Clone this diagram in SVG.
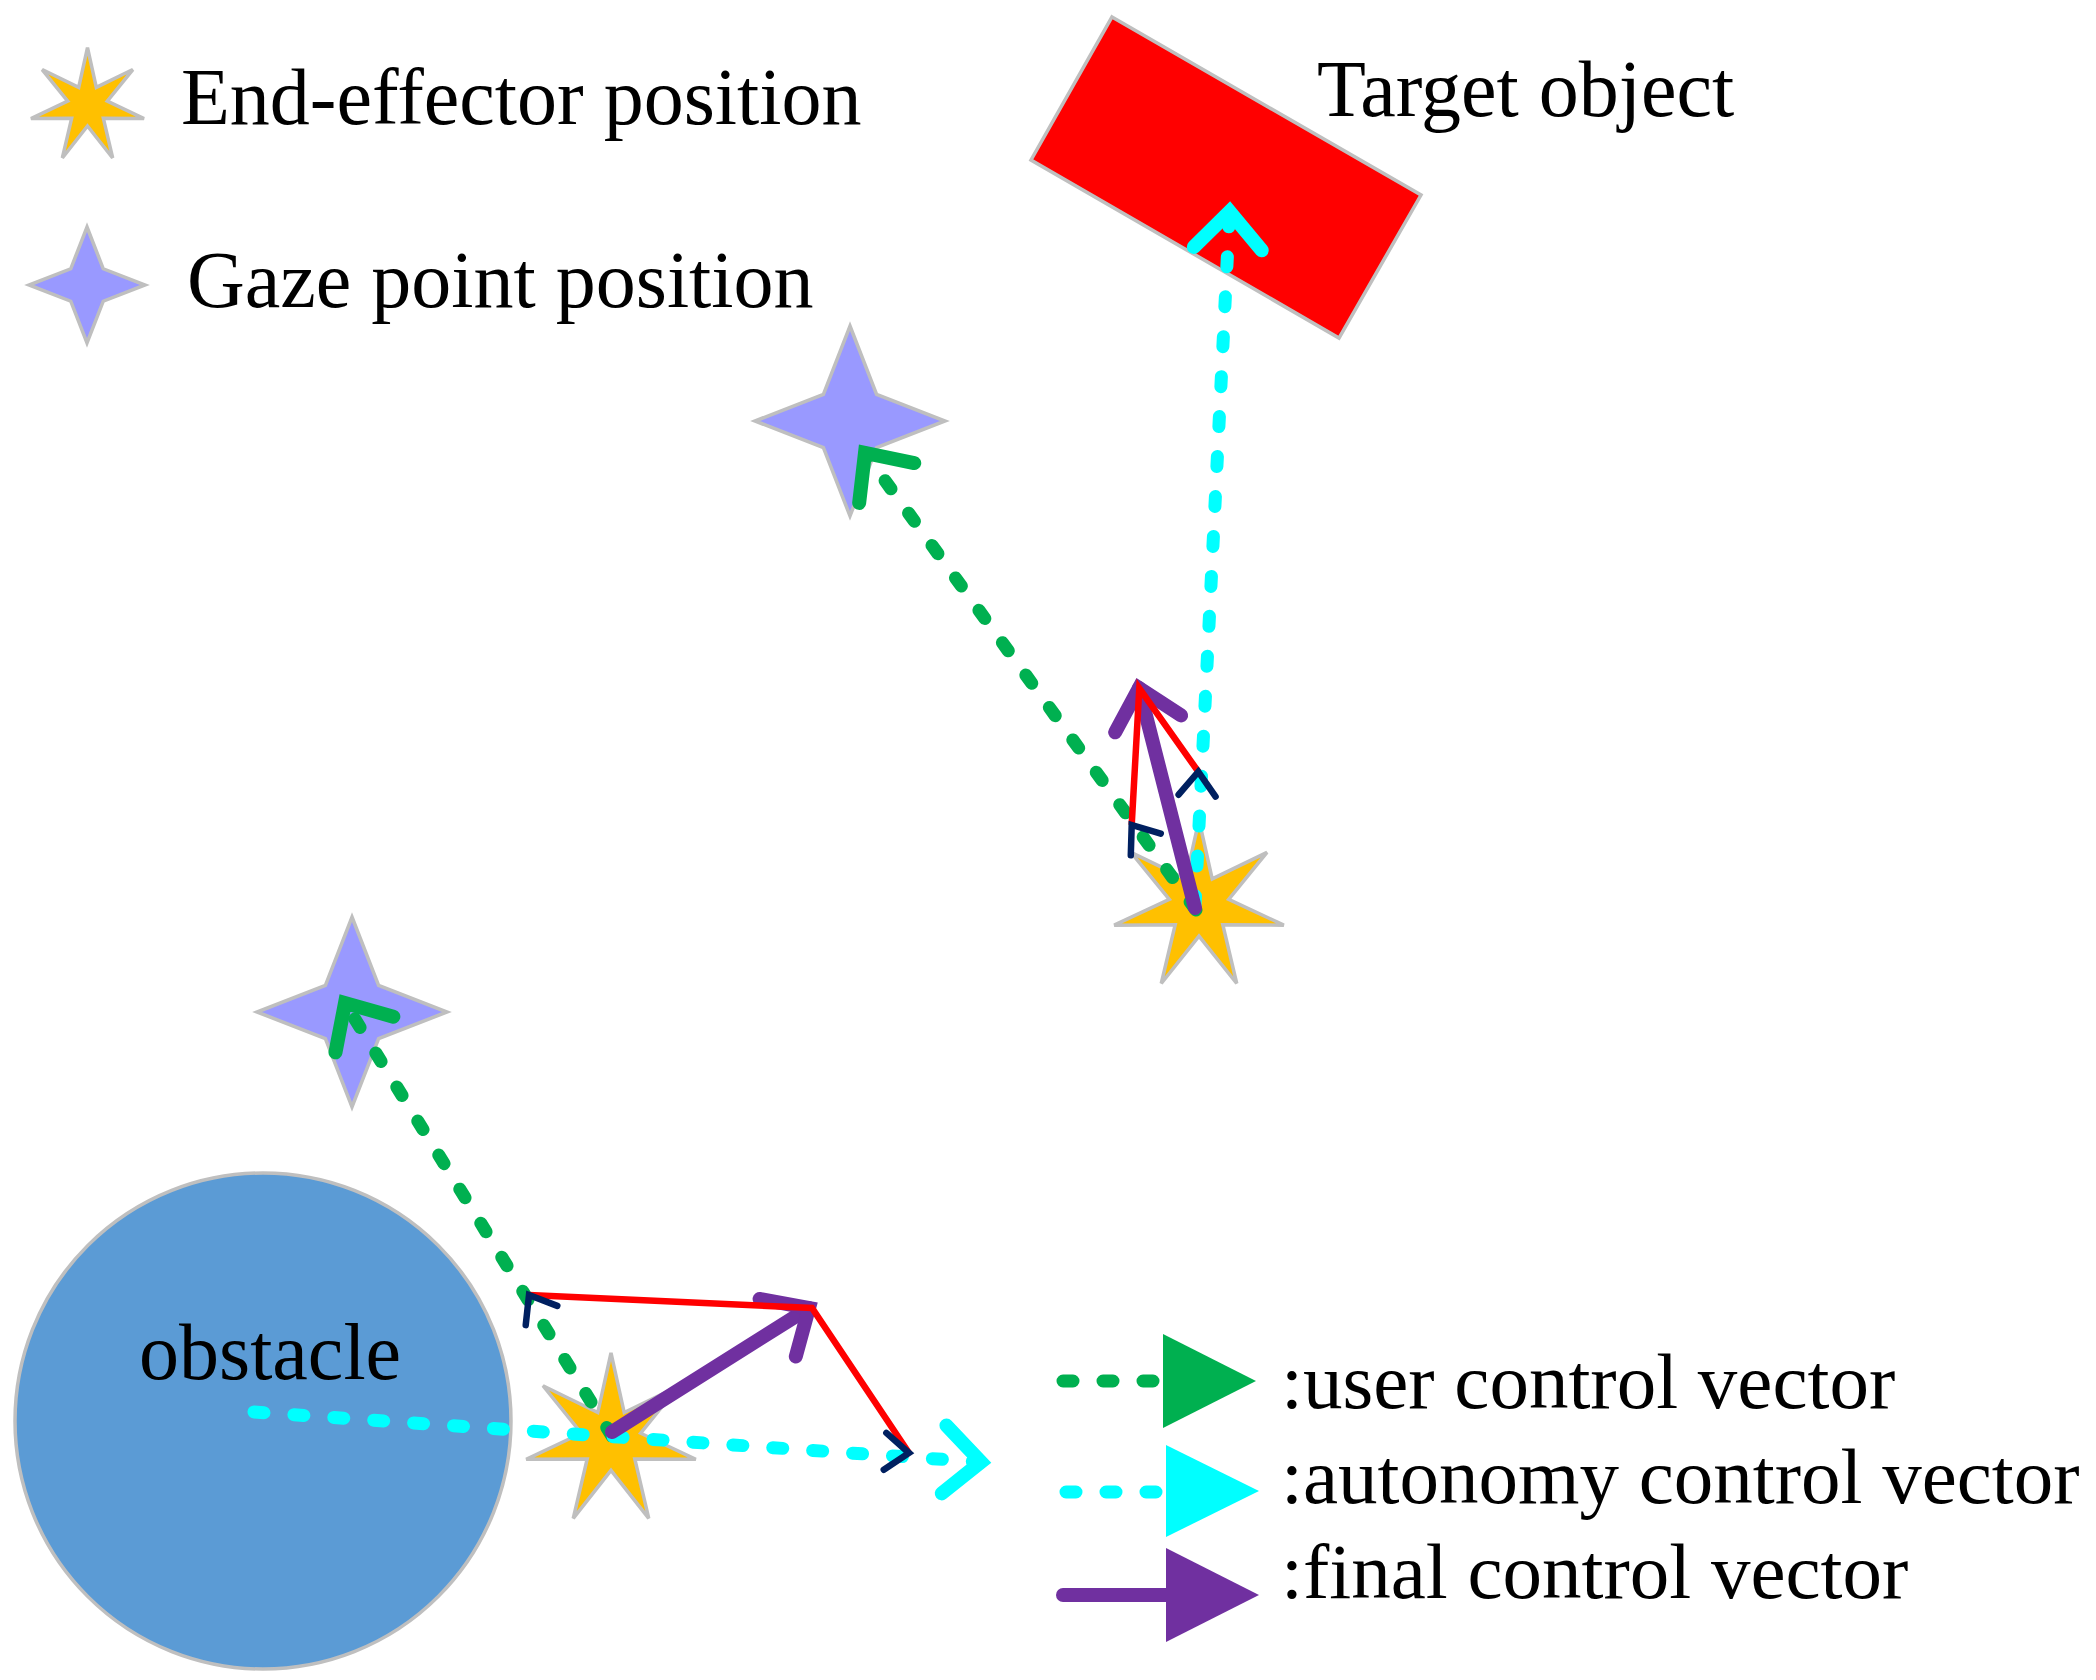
<svg xmlns="http://www.w3.org/2000/svg" xmlns:xlink="http://www.w3.org/1999/xlink" width="2096" height="1680" viewBox="0 0 2096 1680">
<style>
  .lbl { font-family: "Liberation Serif", "Times New Roman", serif; font-size: 80px; fill: #000; }
  .lbl2 { font-family: "Liberation Serif", "Times New Roman", serif; font-size: 79px; fill: #000; }
  .star7 { fill: #FFC000; stroke: #BFBFBF; stroke-width: 3.5; stroke-linejoin: miter; }
  .star4 { fill: #9999FF; stroke: #BFBFBF; stroke-width: 3.5; stroke-linejoin: miter; }
  .user { fill: none; stroke: #00B050; stroke-width: 13; stroke-linecap: round; stroke-dasharray: 10 30; }
  .auto { fill: none; stroke: #00FFFF; stroke-width: 13; stroke-linecap: round; stroke-dasharray: 10 30; }
  .final { fill: none; stroke: #7030A0; stroke-width: 14; stroke-linecap: round; }
  .comp { fill: none; stroke: #FF0000; stroke-width: 6.5; stroke-linejoin: miter; stroke-linecap: butt; }
  .navy { fill: none; stroke: #002060; stroke-width: 6.5; stroke-linecap: round; stroke-linejoin: miter; }
</style>
<defs>
  <polygon id="s7" vector-effect="non-scaling-stroke" points="0,-100 15.19,-31.53 78.18,-62.35 34.12,-7.79 97.49,22.25 27.36,21.82 43.39,90.10 0,35 -43.39,90.10 -27.36,21.82 -97.49,22.25 -34.12,-7.79 -78.18,-62.35 -15.19,-31.53"/>
  <polygon id="s4" vector-effect="non-scaling-stroke" points="0,-100 28,-28 100,0 28,28 0,100 -28,28 -100,0 -28,-28"/>
  <path id="chev" d="M-24,-18.5 L0,0 L-24,18.5"/>
  <marker id="mGreen" markerUnits="userSpaceOnUse" orient="auto" refX="0" refY="0" markerWidth="100" markerHeight="100" overflow="visible">
    <path d="M-37,-34 L0,0 L-37,34" fill="none" stroke="#00B050" stroke-width="14" stroke-linecap="round" stroke-linejoin="miter"/>
  </marker>
  <marker id="mCyan" markerUnits="userSpaceOnUse" orient="auto" refX="0" refY="0" markerWidth="100" markerHeight="100" overflow="visible">
    <path d="M-37,-34 L0,0 L-37,34" fill="none" stroke="#00FFFF" stroke-width="14" stroke-linecap="round" stroke-linejoin="miter"/>
  </marker>
  <marker id="mPurple" markerUnits="userSpaceOnUse" orient="auto" refX="0" refY="0" markerWidth="100" markerHeight="100" overflow="visible">
    <path d="M-37,-34 L0,0 L-37,34" fill="none" stroke="#7030A0" stroke-width="14" stroke-linecap="round" stroke-linejoin="miter"/>
  </marker>
</defs>
<rect width="2096" height="1680" fill="#FFFFFF"/>

<g id="legend-end-effector">
  <use xlink:href="#s7" href="#s7" class="star7" transform="translate(87.5,105.7) scale(0.58)"/>
  <text class="lbl" x="181" y="124">End-effector position</text>
</g>
<g id="legend-gaze">
  <use xlink:href="#s4" href="#s4" class="star4" transform="translate(87,285) scale(0.58)"/>
  <text class="lbl" x="187" y="307">Gaze point position</text>
</g>

<g id="target-object">
  <polygon points="1112,17 1421,195 1339,338 1031,160" fill="#FF0000" stroke="#BFBFBF" stroke-width="3.5"/>
  <text class="lbl" x="1317" y="116">Target object</text>
</g>

<g id="obstacle">
  <circle cx="263" cy="1421" r="248" fill="#5B9BD5" stroke="#BFBFBF" stroke-width="3.5"/>
  <text class="lbl" x="139" y="1379">obstacle</text>
</g>

<g id="gaze-upper">
  <use xlink:href="#s4" href="#s4" class="star4" transform="translate(850,421) scale(0.95)"/>
</g>
<g id="gaze-lower">
  <use xlink:href="#s4" href="#s4" class="star4" transform="translate(352,1012) scale(0.95)"/>
</g>
<g id="end-effector-upper">
  <use xlink:href="#s7" href="#s7" class="star7" transform="translate(1199,906) scale(0.87,0.86)"/>
</g>
<g id="end-effector-lower">
  <use xlink:href="#s7" href="#s7" class="star7" transform="translate(611,1440) scale(0.87)"/>
</g>

<g id="connectors">
  <!-- user control vectors -->
  <path class="user" d="M1196,910 L865,453" marker-end="url(#mGreen)"/>
  <path class="user" d="M612,1436 L345,1003" marker-end="url(#mGreen)"/>
  <!-- autonomy control vectors -->
  <path class="auto" d="M1195,906 L1229.6,211.7" marker-end="url(#mCyan)"/>
  <path class="auto" d="M254,1412 L981,1462" marker-end="url(#mCyan)"/>
  <!-- final control vectors -->
  <path class="final" d="M1195,908 L1139,688" marker-end="url(#mPurple)"/>
  <path class="final" d="M612,1432 L809,1308" marker-end="url(#mPurple)"/>
  <!-- weighted components -->
  <path class="comp" d="M1131.7,825 L1139.3,688.3 L1198.3,771.7"/>
  <path class="comp" d="M529,1295 L812,1308 L909,1453"/>
  <use xlink:href="#chev" href="#chev" class="navy" transform="translate(1131.7,825) rotate(-125.9)"/>
  <use xlink:href="#chev" href="#chev" class="navy" transform="translate(1198.3,771.7) rotate(-87.1)"/>
  <use xlink:href="#chev" href="#chev" class="navy" transform="translate(529,1295) rotate(-121.4)"/>
  <use xlink:href="#chev" href="#chev" class="navy" transform="translate(909,1453) rotate(4)"/>
</g>

<g id="legend-vectors">
  <g id="legend-user">
    <path class="user" d="M1063,1381 L1163,1381"/>
    <polygon points="1163,1334 1256,1381 1163,1428" fill="#00B050"/>
    <text class="lbl2" x="1281" y="1408">:user control vector</text>
  </g>
  <g id="legend-autonomy">
    <path class="auto" d="M1066,1492 L1166,1492"/>
    <polygon points="1166,1445 1259,1491 1166,1537" fill="#00FFFF"/>
    <text class="lbl2" x="1281" y="1503">:autonomy control vector</text>
  </g>
  <g id="legend-final">
    <path class="final" d="M1063,1595 L1166,1595"/>
    <polygon points="1166,1548 1259,1595 1166,1642" fill="#7030A0"/>
    <text class="lbl2" x="1281" y="1598">:final control vector</text>
  </g>
</g>
</svg>
